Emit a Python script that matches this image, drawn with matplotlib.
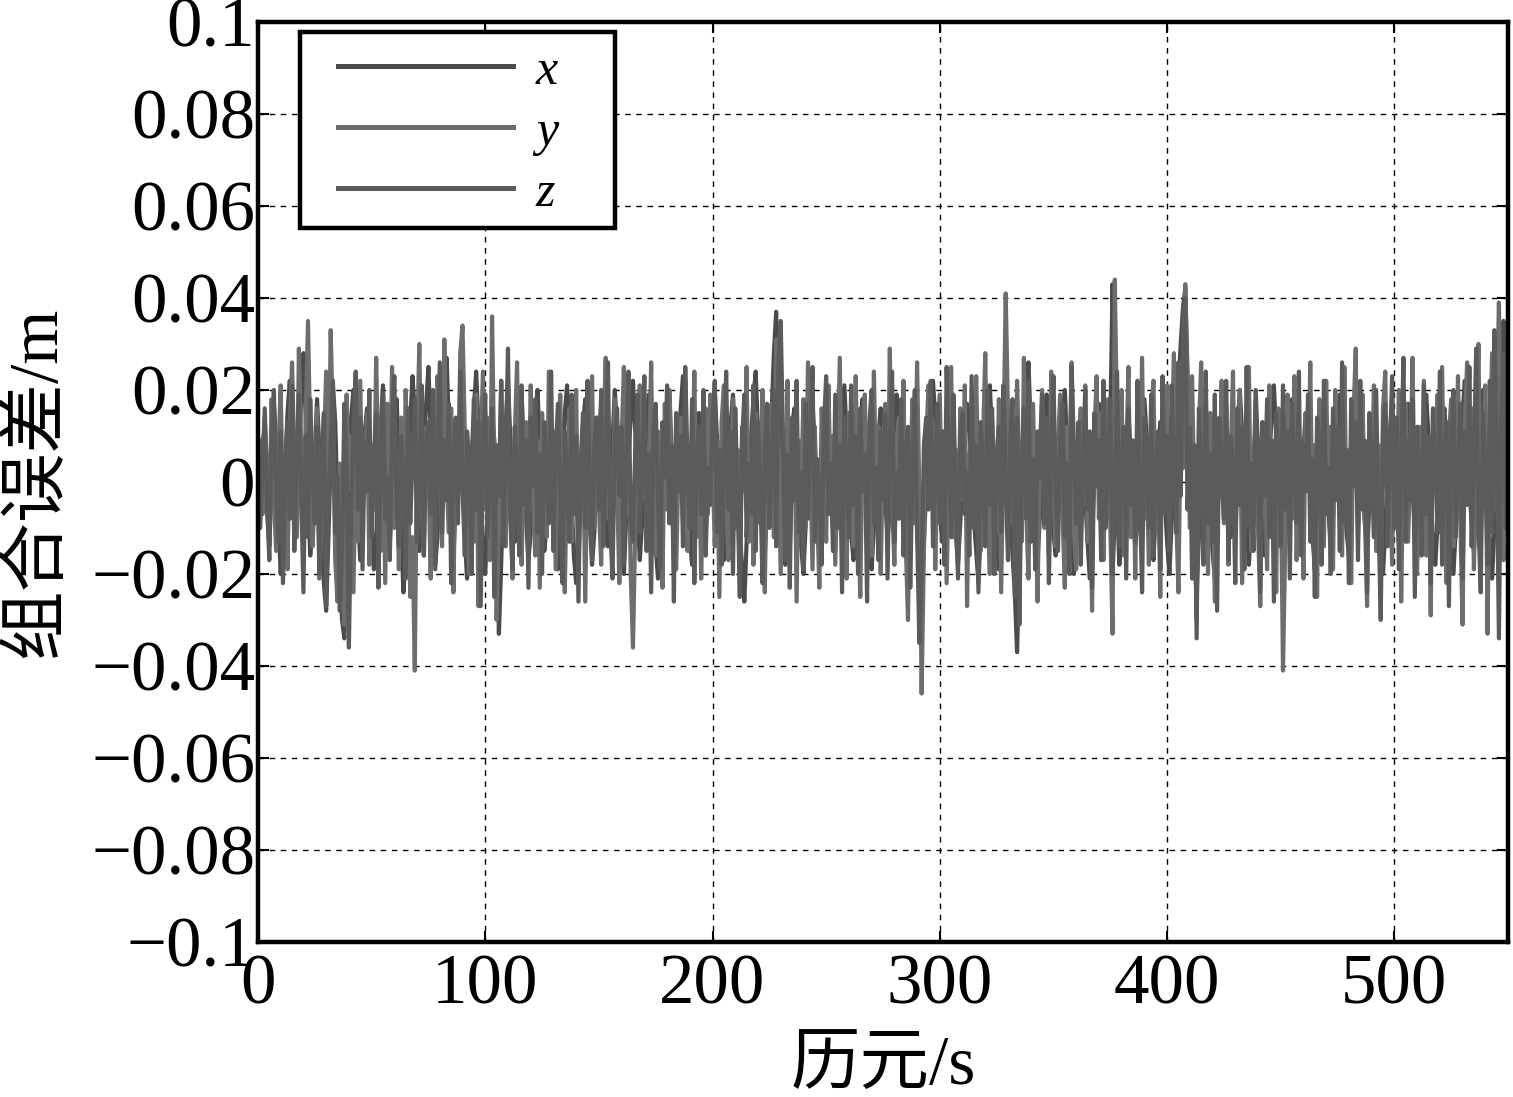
import numpy as np
import matplotlib
matplotlib.use("Agg")
import matplotlib.pyplot as plt
from matplotlib.patches import Rectangle
from matplotlib.ticker import FixedLocator, FuncFormatter

# errors, in millimetres, one value per epoch (0..550 s)
err_x = [
    5, -3, 8, 12, -6, -14, 2, 17, 9, -8, -20, -11, 4, 15, 22, 10, -4, -12, 3, 19, 28, 14, -2, -16, -9,
    6, 18, 7, -10, -22, -28, -12, 5, 21, 13, -5, -18, -30, -34, -15, 2, 14, 20, 9, -7, -17, -6, 11, 16, 4,
    -9, -19, -13, 3, 12, 21, 8, -4, -14, -2, 10, 18, 6, -11, -24, -16, 1, 13, 23, 15, -3, -15, -8, 7, 17,
    25, 11, -6, -18, -12, 2, 9, 19, 27, 12, -7, -16, -4, 8, 14, 3, -12, -21, -10, 5, 16, 24, 13, -1, -14,
    -20, -8, 6, 15, 9, -6, -33, -18, 0, 12, 22, 10, -5, -13, -2, 11, 19, 7, -8, -17, -11, 3, 14, 20, 8,
    -6, -15, -9, 4, 13, 2, -12, -19, -7, 6, 15, 21, 9, -4, -16, -22, -10, 3, 12, 18, 5, -9, -18, -11, 1,
    10, 17, 6, -7, -14, -3, 9, 20, 12, -2, -13, -20, -8, 5, 14, 22, 11, -6, -17, -9, 3, 12, 19, 8, -5,
    -14, -21, -10, 2, 11, 17, 7, -5, -13, -3, 8, 16, 23, 10, -4, -12, -18, -7, 6, 15, 9, -3, -11, -2, 7,
    14, 20, 9, -4, -12, -17, -6, 5, 13, 19, 8, -3, -10, -19, -26, -13, 1, 10, 18, 24, 11, -2, -9, -16, -5,
    7, 15, 28, 37, 18, 2, -10, -18, -8, 4, 12, 16, 6, -6, -14, -20, -9, 3, 11, 17, 8, -3, -12, -6, 5,
    13, 9, -2, -10, -15, -4, 7, 14, 21, 10, -3, -11, -17, -8, 4, 12, 18, 7, -5, -13, -19, -10, 2, 10, 16,
    6, -4, -12, -7, 3, 11, 19, 13, 1, -8, -14, -5, 6, 12, 4, -9, -20, -27, -13, -2, 8, 15, 22, 14, 3,
    -6, -13, -4, 7, 14, 9, -2, -11, -18, -9, 3, 10, 17, 11, 0, -8, -15, -22, -11, 1, 9, 16, 21, 10, -3,
    -12, -19, -8, 5, 13, 8, -6, -16, -24, -37, -17, -2, 9, 18, 26, 12, -1, -10, -17, -8, 4, 11, 19, 9, -4,
    -11, -16, -5, 6, 14, 20, 8, -3, -12, -20, -10, 2, 10, 7, -4, -13, -21, -11, 1, 9, 17, 12, 0, -9, -6,
    12, 43, 20, -5, -18, -10, 2, 9, 15, 6, -6, -14, -9, 3, 11, 18, 10, -2, -11, -17, -7, 5, 13, 8, -4,
    -13, -20, -9, 4, 12, 21, 30, 38, 42, 24, 7, -8, -17, -24, -12, 0, 10, 17, 7, -6, -15, -21, -10, 3, 11,
    17, 8, -4, -12, -6, 5, 12, 20, 11, -2, -10, -18, -8, 4, 13, 9, -3, -11, -16, -6, 6, 14, 21, 10, -1,
    -10, -17, -7, 4, 12, 18, 8, -5, -13, -4, 7, 15, 10, -2, -12, -19, -9, 2, 11, 17, 6, -6, -14, -8, 3,
    12, 19, 9, -3, -11, -16, -6, 5, 13, 20, 11, -1, -9, -15, -5, 6, 14, 8, -4, -12, -20, -10, 1, 10, 18,
    7, -5, -13, -7, 4, 11, 17, 9, -2, -10, -17, -8, 3, 12, 19, 10, -3, -12, -18, -9, 2, 10, 16, 7, -4,
    -12, -20, -10, 1, 9, 15, 22, 12, -1, -9, -15, -6, 5, 13, 20, 9, -4, -13, -21, -10, 2, 11, 24, 35, 16,
    -12,
]
err_y = [
    -2, 9, -7, 14, 3, -11, 18, -4, -15, 6, 21, -8, 2, -19, 11, 26, 5, -12, 29, 8, -6, 13, 35, 9, -14,
    -3, 16, -21, -9, 7, 24, -5, 33, 12, -17, -26, 4, -11, -31, 19, -2, 10, -24, 6, -13, 22, -8, 3, 15, -18,
    8, -6, 27, 1, -15, 11, -22, 17, -4, 25, -10, 5, -19, 14, -7, 20, 2, -25, -12, -41, 9, 30, -3, -16, 12,
    4, -21, 18, -9, 23, 7, -14, 31, 0, -11, 16, -24, 6, -5, 28, 34, 11, -8, -20, 3, -13, 19, -27, 8, 24,
    -6, 14, -17, 36, 2, -30, -9, 22, 5, -14, 17, -3, -21, 10, 26, -7, -18, 4, 13, -11, 21, -2, -16, 9, -23,
    15, 2, -12, 24, -6, 11, -19, 7, 19, -9, -24, 3, 16, -13, 6, 20, -17, -4, 12, -26, 8, 1, 23, -10, 14,
    -5, -18, 10, 27, -8, 4, -15, 18, -1, -22, 9, 25, -7, 13, -20, -36, -10, 7, 21, -4, 15, -13, 2, 26, -9,
    -16, 11, 5, -23, 17, -6, 20, 8, -11, -19, 3, 14, -8, 22, -15, 6, -3, 24, -12, 10, -21, 1, 16, -7, 19,
    4, -14, 9, -25, 13, 21, -5, -17, 2, 18, -10, 7, -22, 12, -2, 25, -13, 5, -18, 15, 0, -9, 20, -24, 8,
    -4, 17, -12, 31, 6, -20, 11, -7, 22, -15, 3, 14, -26, 9, -1, 18, -10, 26, 4, -19, 12, -6, -23, 16, 7,
    -13, 21, -3, 10, -18, 5, 27, -9, 1, -21, 15, 8, -14, 23, -5, -25, 11, 19, -8, 3, -16, 24, -2, 12, -20,
    6, 17, -11, 29, -4, -18, 9, 14, -7, 22, -13, -30, 2, 18, -9, 26, -3, -46, -15, 8, 21, -5, 13, -19, 4,
    19, -8, 11, -22, 2, 25, -12, 7, -17, 16, -4, 21, -27, 5, 12, -10, 23, -1, -15, 9, 28, -6, -20, 14, 3,
    -11, 18, -24, 8, 41, 15, -9, 4, -18, 22, 2, -13, 27, -6, -21, 11, 17, -3, -26, 6, 20, -10, 13, -16, 24,
    -2, -14, 9, 19, -7, -23, 12, 3, 26, -11, -19, 7, 16, -5, 21, -13, 1, -28, 10, 23, -8, 15, -17, 5, 18,
    -9, -33, 44, 12, -6, 20, -16, 4, 25, -12, 9, -21, 17, -3, 27, -8, 2, -18, 13, 22, -11, 6, -25, 16, -4,
    21, -14, 8, 28, -7, -24, 14, 3, 43, 19, -10, 23, -5, -30, 11, 26, -13, 4, -20, 15, 7, -26, 12, -3, 22,
    -9, 17, -18, 6, 24, -12, 1, 20, -22, 10, -6, 25, -15, 3, 18, -10, -27, 13, 5, -19, 21, -4, 9, -24, 16,
    2, -41, -13, 19, 7, -8, 23, -17, 11, 4, -21, 15, -2, 26, -11, 8, -25, 18, 1, -14, 22, -6, 12, -19, 20,
    -3, 9, -16, 25, -9, 6, -22, 14, 29, -12, 3, 19, -7, -27, 11, -2, 21, -15, 8, -23, 16, 24, -10, 5, -18,
    13, -5, 20, -26, 7, 17, -13, 2, 27, -9, -20, 12, -4, 22, -16, 6, -29, 15, 1, 19, -11, 25, -7, -22, 10,
    18, -14, 4, 23, -8, -31, 12, 26, -3, 16, -19, 7, 30, -12, 2, 21, -33, 9, 28, -6, 14, 39, 3, -17, 27,
    -4,
]
err_z = [
    7, -10, 3, 16, -5, -17, 9, 20, -2, -13, 11, -22, 4, 13, -8, 21, -15, 6, 19, -3, -24, 10, -12, 18, 2,
    -9, 12, -20, 5, 15, -27, -4, 8, 22, -11, 1, -28, -15, 17, 3, -36, -7, 11, 24, -6, 14, -19, 9, -2, 20,
    -12, 4, 15, -23, 7, 19, -8, 1, -17, 12, 23, -5, -14, 10, 2, -21, 16, -9, 5, 18, -13, -2, 21, -16, 8,
    13, -7, 20, -19, 3, 26, -11, 9, -4, 17, -22, 6, 14, -9, 24, -1, -16, 11, 4, -20, 18, -6, 13, -27, 7,
    19, -12, 2, 16, -25, 8, -3, 22, -14, 5, 29, -8, -19, 12, 1, -16, 21, -5, 9, -23, 14, -1, 18, -11, 6,
    -20, 13, 3, -9, 24, -15, 7, 17, -4, -22, 11, 1, -13, 19, -7, 10, -26, 4, 15, -10, 22, -2, -17, 8, 14,
    -6, 20, -14, 3, 26, -10, -21, 9, 16, -3, 12, -18, 5, 24, -8, -13, 7, 19, -11, 2, 23, -15, 6, -24, 11,
    17, -4, -19, 13, 1, 21, -9, 8, -26, 15, -2, 10, -14, 25, 4, -10, 18, -22, 6, 12, -7, 20, -16, 3, -5,
    14, 22, -11, 7, -18, 2, 24, -6, 11, -20, 16, -3, -25, 9, 19, -12, 4, -7, 21, -15, 13, -1, -22, 8, 17,
    -10, 3, 20, -14, 26, 35, 10, -17, 6, -23, 14, -4, 22, -11, 2, -19, 17, -8, 11, 25, -13, 5, -2, -18, 12,
    23, -7, 4, -15, 19, -10, 8, -24, 14, 1, -12, 21, -5, 10, -20, 16, -2, 6, -26, 13, 20, -9, 3, -17, 11,
    -4, 15, -21, 9, 24, -13, 2, -8, 18, -16, 7, 12, -23, 4, 20, -11, -35, -19, 8, 14, -6, 22, -14, 1, 17,
    -9, 11, -18, 25, 5, -12, 19, -3, -21, 10, 15, -7, 2, -16, 23, -10, 8, -24, 13, 3, -14, 20, -5, 16, -20,
    6, 12, -11, 21, -2, -17, 9, 18, -25, 14, -31, 3, 16, -8, 22, -13, 5, -19, 11, 1, 19, -9, 14, -22, 7,
    23, -3, -15, 10, 17, -12, 4, -20, 25, 8, -9, 13, -18, 3, 20, -6, 11, -23, 15, -1, 9, -17, 22, -10, 6,
    18, -20, -8, 24, -14, 5, 12, -21, 16, -5, 9, -13, 22, -2, -24, 14, 7, -10, 19, -16, 3, 11, -19, 23, -7,
    10, -15, 21, 4, -11, 26, -3, 35, 40, -6, 12, -21, 8, -34, 16, 2, -18, 24, -9, 6, -13, 19, -28, 14, 1,
    -8, 22, -17, 10, 3, -22, 16, -5, 12, -19, 25, -10, 4, -15, 20, 7, -24, 13, -3, 18, -12, 9, -26, 15, 5,
    -14, 21, -6, 11, -21, 17, 2, -9, 24, -16, 8, -2, 19, -13, 5, -25, 14, 10, -18, 22, -7, 3, -20, 16, -4,
    12, -15, 26, -9, 7, -22, 18, -1, 13, -17, 22, -6, 9, -24, 15, 4, -12, 20, -8, -30, 11, 17, -14, 6, 23,
    -10, 14, -19, 5, 27, -13, 9, -4, 18, -25, 12, 1, -16, 21, -7, 10, -22, 16, 3, -11, 24, -18, 7, 13, -27,
    8, 20, -12, 2, 17, -21, 11, -5, 25, -14, 6, 29, -9, -24, 15, 3, -18, 22, -11, 33, 7, -34, 14, 28, -10,
    5,
]
labels = ['x', 'y', 'z']
colors = ['#4b4b4b', '#6d6d6d', '#5b5b5b']
yticks = [-0.1, -0.08, -0.06, -0.04, -0.02, 0, 0.02, 0.04, 0.06, 0.08, 0.1]
xticks = [0, 100, 200, 300, 400, 500]

plt.rcParams['font.family'] = ['Liberation Serif', 'Noto Sans CJK SC']
plt.rcParams['axes.unicode_minus'] = True

fig = plt.figure(figsize=(15.13, 10.97), dpi=100)
ax = fig.add_axes([0.1705, 0.1413, 0.8262, 0.8387])

epochs = np.arange(len(err_x))
for vals, lab, col in zip([err_x, err_y, err_z], labels, colors):
    ax.plot(epochs, np.array(vals) / 1000.0, color=col, lw=3.0, label=lab)

ax.set_xlim(0, 550)
ax.set_ylim(-0.1, 0.1)
ax.xaxis.set_major_locator(FixedLocator(xticks))
ax.yaxis.set_major_locator(FixedLocator(yticks))
ax.yaxis.set_major_formatter(FuncFormatter(lambda v, p: ('%g' % v).replace('-', '\u2212')))

ax.grid(True, color='black', linestyle='--', linewidth=1.0, dashes=(4, 4))
ax.tick_params(direction='in', length=8, width=1.5, top=True, right=True, labelsize=51)
ax.tick_params(axis='x', pad=8)
ax.tick_params(axis='y', pad=2)
for sp in ax.spines.values():
    sp.set_linewidth(3.2)

ax.set_xlabel('历元/s', fontsize=50, va='top')
ax.xaxis.set_label_coords(0.5, -0.102)
ax.set_ylabel('组合误差/m', fontsize=50)
ax.yaxis.set_label_coords(-0.150, 0.5)

# legend box drawn by hand so the padding matches the original
box = Rectangle((0.0336, 0.776), 0.252, 0.213, transform=ax.transAxes,
                facecolor='white', edgecolor='black', linewidth=3.2, zorder=4)
ax.add_patch(box)
leg = ax.legend(loc='upper left', bbox_to_anchor=(0.064, 0.9715), borderaxespad=0,
                prop={'family': 'Liberation Serif', 'style': 'italic', 'size': 36},
                handlelength=3.5, handletextpad=0.46, labelspacing=0.29,
                borderpad=0, frameon=False)
leg.set_zorder(5)
for ln in leg.get_lines():
    ln.set_linewidth(3.6)

fig.savefig('out.png', dpi=100)
